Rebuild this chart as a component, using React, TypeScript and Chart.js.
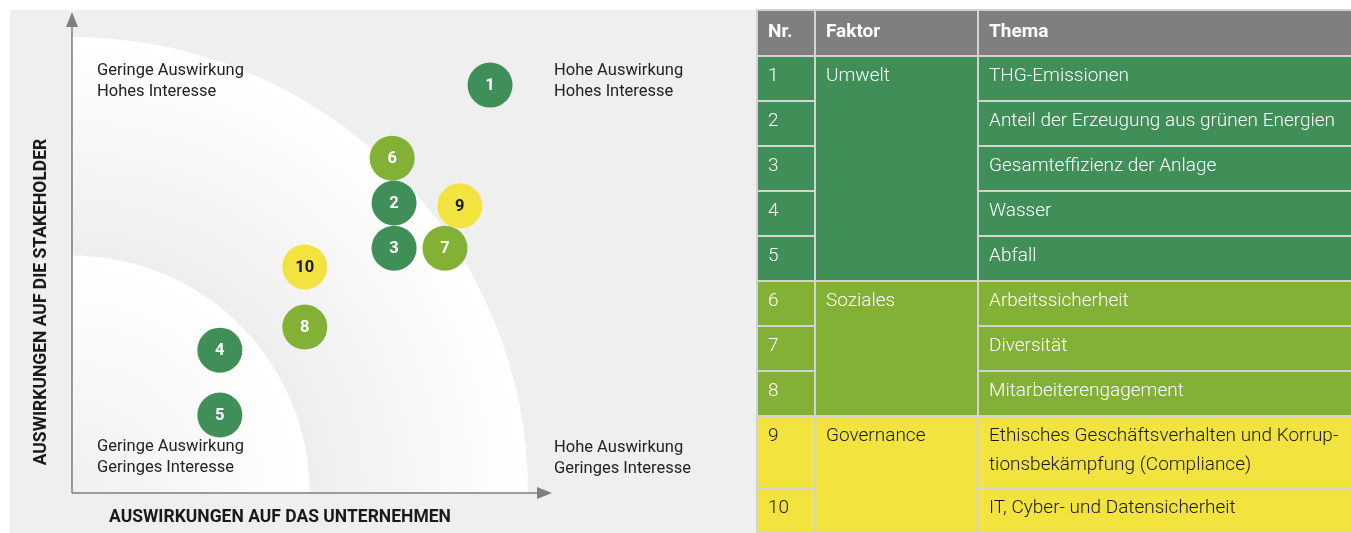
import React, { useEffect, useRef } from "react";
import { Chart, registerables } from "chart.js";

Chart.register(...registerables);

// ---- Data ----
const topicIds = ["1", "2", "3", "4", "5", "6", "7", "8", "9", "10"];
const impactCompany = [87.1, 67.1, 67.1, 30.8, 30.8, 66.7, 77.7, 48.5, 80.8, 48.5];
const impactStakeholder = [84.8, 60.3, 50.9, 29.7, 16.2, 69.6, 50.9, 34.5, 59.7, 47.0];
const topicGroups = ["Umwelt", "Umwelt", "Umwelt", "Umwelt", "Umwelt", "Soziales", "Soziales", "Soziales", "Governance", "Governance"];
const topicNames = [
  "THG-Emissionen",
  "Anteil der Erzeugung aus grünen Energien",
  "Gesamteffizienz der Anlage",
  "Wasser",
  "Abfall",
  "Arbeitssicherheit",
  "Diversität",
  "Mitarbeiterengagement",
  "Ethisches Geschäftsverhalten und Korrup-\ntionsbekämpfung (Compliance)",
  "IT, Cyber- und Datensicherheit",
];
const factorNames = ["Umwelt", "Soziales", "Governance"];
const factorSpans = [5, 3, 2];
const tableHeaders = ["Nr.", "Faktor", "Thema"];
const quadrantLabels = [
  ["Geringe Auswirkung", "Hohes Interesse"],
  ["Hohe Auswirkung", "Hohes Interesse"],
  ["Geringe Auswirkung", "Geringes Interesse"],
  ["Hohe Auswirkung", "Geringes Interesse"],
];
const xAxisTitle = "AUSWIRKUNGEN AUF DAS UNTERNEHMEN";
const yAxisTitle = "AUSWIRKUNGEN AUF DIE STAKEHOLDER";
const innerRingRadius = 49.5;
const outerRingRadius = 95;

const groupColors: Record<string, string> = {
  Umwelt: "#408e58",
  Soziales: "#83b136",
  Governance: "#f2e33e",
};
const groupText: Record<string, string> = {
  Umwelt: "#ffffff",
  Soziales: "#ffffff",
  Governance: "#1a1a1a",
};

const FONT = "Roboto, 'Liberation Sans', sans-serif";

const backgroundPlugin = {
  id: "matrixBackground",
  beforeDatasetsDraw(chart: any) {
    const { ctx, scales } = chart;
    const xs = scales.x;
    const ys = scales.y;
    const cx = xs.getPixelForValue(0);
    const cy = ys.getPixelForValue(0);
    const rBig = xs.getPixelForValue(outerRingRadius) - cx;
    const rSmall = xs.getPixelForValue(innerRingRadius) - cx;
    ctx.save();
    let g = ctx.createRadialGradient(cx, cy, rSmall, cx, cy, rBig);
    g.addColorStop(0, "#eeeeee");
    g.addColorStop(1, "#ffffff");
    ctx.fillStyle = g;
    ctx.beginPath();
    ctx.moveTo(cx, cy);
    ctx.arc(cx, cy, rBig, -Math.PI / 2, 0);
    ctx.closePath();
    ctx.fill();
    g = ctx.createRadialGradient(cx, cy, 0, cx, cy, rSmall);
    g.addColorStop(0, "#f0f0f0");
    g.addColorStop(1, "#ffffff");
    ctx.fillStyle = g;
    ctx.beginPath();
    ctx.moveTo(cx, cy);
    ctx.arc(cx, cy, rSmall, -Math.PI / 2, 0);
    ctx.closePath();
    ctx.fill();

    const top = chart.chartArea.top;
    const right = chart.chartArea.right;
    ctx.strokeStyle = "#7f7f7f";
    ctx.fillStyle = "#7f7f7f";
    ctx.lineWidth = 1.5;
    ctx.beginPath();
    ctx.moveTo(cx, cy);
    ctx.lineTo(cx, top + 12);
    ctx.moveTo(cx, cy);
    ctx.lineTo(right - 12, cy);
    ctx.stroke();
    ctx.beginPath();
    ctx.moveTo(cx, top);
    ctx.lineTo(cx - 6, top + 15);
    ctx.lineTo(cx + 6, top + 15);
    ctx.closePath();
    ctx.fill();
    ctx.beginPath();
    ctx.moveTo(right, cy);
    ctx.lineTo(right - 15, cy - 6);
    ctx.lineTo(right - 15, cy + 6);
    ctx.closePath();
    ctx.fill();

    ctx.fillStyle = "#222222";
    ctx.font = `16.5px ${FONT}`;
    ctx.textBaseline = "middle";
    ctx.textAlign = "left";
    const lx = cx + 25;
    const rx = right + 2;
    const positions = [
      [lx, top + 59],
      [rx, top + 59],
      [lx, cy - 46],
      [rx, cy - 45],
    ];
    quadrantLabels.forEach((lines, i) => {
      lines.forEach((t, j) => {
        ctx.fillText(t, positions[i][0], positions[i][1] + j * 21);
      });
    });

    ctx.font = `bold 17.5px ${FONT}`;
    ctx.fillStyle = "#1a1a1a";
    ctx.textAlign = "center";
    ctx.fillText(xAxisTitle, cx + 208, cy + 25);
    ctx.save();
    ctx.translate(cx - 30, top + 290);
    ctx.rotate(-Math.PI / 2);
    ctx.fillText(yAxisTitle, 0, 0);
    ctx.restore();
    ctx.restore();
  },
  afterDatasetsDraw(chart: any) {
    const { ctx } = chart;
    const meta = chart.getDatasetMeta(0);
    ctx.save();
    ctx.font = `bold 16.5px ${FONT}`;
    ctx.textAlign = "center";
    ctx.textBaseline = "middle";
    meta.data.forEach((pt: any, i: number) => {
      ctx.fillStyle = groupText[topicGroups[i]];
      ctx.fillText(topicIds[i], pt.x, pt.y + 1);
    });
    ctx.restore();
  },
};

function Matrix() {
  const ref = useRef<HTMLCanvasElement>(null);
  useEffect(() => {
    if (!ref.current) return;
    const chart = new Chart(ref.current, {
      type: "scatter",
      data: {
        datasets: [
          {
            data: impactCompany.map((x, i) => ({ x, y: impactStakeholder[i] })),
            backgroundColor: topicGroups.map((g) => groupColors[g]),
            borderWidth: 0,
            pointRadius: 22.5,
            pointHoverRadius: 22.5,
          },
        ],
      },
      options: {
        animation: false,
        responsive: true,
        maintainAspectRatio: false,
        layout: { autoPadding: false, padding: { left: 62, top: 2, right: 205, bottom: 40 } },
        scales: {
          x: { type: "linear", min: 0, max: 100, display: false },
          y: { type: "linear", min: 0, max: 100, display: false },
        },
        plugins: { legend: { display: false }, tooltip: { enabled: false } },
      },
      plugins: [backgroundPlugin],
    });
    return () => chart.destroy();
  }, []);
  return (
    <div style={{ position: "absolute", left: 10, top: 10, width: 747, height: 523 }}>
      <canvas ref={ref} />
    </div>
  );
}

function Table() {
  const border = "2px solid #d3d3d3";
  const cell: React.CSSProperties = {
    border,
    padding: "0 10px",
    verticalAlign: "top",
    lineHeight: "29px",
    paddingTop: "3px",
    fontWeight: 300,
  };
  const rows: React.ReactNode[] = [];
  let idx = 0;
  factorNames.forEach((f, fi) => {
    for (let k = 0; k < factorSpans[fi]; k++) {
      const i = idx++;
      const bg = groupColors[f];
      const color = groupText[f];
      const h = topicNames[i].includes("\n") ? 72 : 45;
      rows.push(
        <tr key={i} style={{ height: h, background: bg, color }}>
          <td style={{ ...cell, color, background: bg }}>{topicIds[i]}</td>
          {k === 0 && (
            <td rowSpan={factorSpans[fi]} style={{ ...cell, color, background: bg }}>
              {f}
            </td>
          )}
          <td style={{ ...cell, color, background: bg, whiteSpace: "pre-line" }}>{topicNames[i]}</td>
        </tr>
      );
    }
  });
  return (
    <div style={{ position: "absolute", left: 756, top: 9, width: 600, height: 524, overflow: "hidden" }}>
      <table
        style={{
          borderCollapse: "collapse",
          width: 600,
          tableLayout: "fixed",
          fontFamily: FONT,
          fontSize: 19,
        }}
      >
        <colgroup>
          <col style={{ width: 58 }} />
          <col style={{ width: 163 }} />
          <col style={{ width: 379 }} />
        </colgroup>
        <thead>
          <tr style={{ height: 46, background: "#7f7f7f", color: "#fff" }}>
            {tableHeaders.map((h) => (
              <th key={h} style={{ ...cell, textAlign: "left", fontWeight: 700, paddingTop: "5px" }}>
                {h}
              </th>
            ))}
          </tr>
        </thead>
        <tbody>{rows}</tbody>
      </table>
    </div>
  );
}

export default function App() {
  return (
    <div style={{ position: "absolute", left: 0, top: 0, width: 1351, height: 533, background: "#fff", overflow: "hidden" }}>
      <div style={{ position: "absolute", left: 10, top: 10, width: 1341, height: 523, background: "#efefef" }} />
      <Matrix />
      <Table />
    </div>
  );
}
